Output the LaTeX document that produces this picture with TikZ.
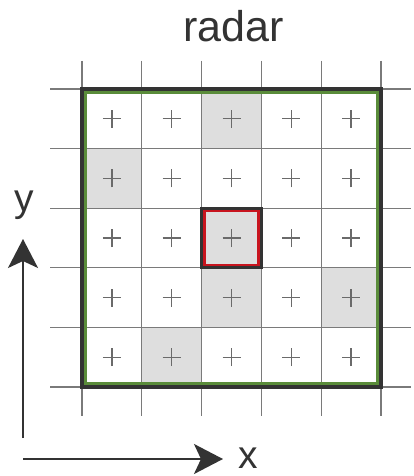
\documentclass[tikz,border=0pt]{standalone}
\usepackage{fontspec}
\setmainfont{Liberation Sans}
\usetikzlibrary{arrows.meta}
\definecolor{ink}{HTML}{333333}
\definecolor{gridc}{HTML}{7A7A7A}
\definecolor{plusc}{HTML}{6A6A6A}
\definecolor{cellgray}{HTML}{DEDEDE}
\definecolor{frgreen}{HTML}{5A8C3A}
\definecolor{frred}{HTML}{C8141E}
\tikzset{
  gridline/.style={draw=gridc, line width=1.3pt},
  pluss/.style={draw=plusc, line width=1.3pt},
  graycell/.style={fill=cellgray, draw=none},
  axisarrow/.style={draw=ink, line width=2pt, -{Stealth[length=29pt,width=30pt,inset=7pt]}},
  lbl/.style={text=ink, font=\fontsize{39}{44}\selectfont, inner sep=0pt, anchor=base},
}
\begin{document}
\begin{tikzpicture}[x=1pt,y=-1pt]
\useasboundingbox[fill=white] (0,0) rectangle (413,476);
\def\cw{59.8}
\def\chh{59.6}
% gray cells
\foreach \c/\r in {3/1, 1/2, 3/3, 3/4, 5/4, 2/5}{
  \path[graycell] ({82+(\c-1)*\cw},{89+(\r-1)*\chh}) rectangle ++(\cw,\chh);
}
% grid lines
\foreach \k in {0,...,5}{
  \draw[gridline] ({82+\k*\cw},61) -- ({82+\k*\cw},416);
  \draw[gridline] (50,{89+\k*\chh}) -- (411,{89+\k*\chh});
}
% plus signs as cell nodes
\foreach \c in {1,...,5}{
  \foreach \r in {1,...,5}{
    \coordinate (cell\c\r) at ({82+(\c-0.5)*\cw},{89+(\r-0.5)*\chh});
    \draw[pluss] ([xshift=-9pt]cell\c\r) -- ([xshift=9pt]cell\c\r);
    \draw[pluss] ([yshift=-9pt]cell\c\r) -- ([yshift=9pt]cell\c\r);
  }
}
% outer frame
\draw[ink, line width=4pt] (82,89) rectangle (381,387);
\draw[frgreen, line width=3pt] (85.5,92.5) rectangle (377.5,383.5);
% center frame
\node[draw=ink, line width=3pt, minimum width=59.8pt, minimum height=59.6pt, inner sep=0pt] (center) at (cell33) {};
\node[draw=frred, line width=2.5pt, minimum width=54.3pt, minimum height=54.1pt, inner sep=0pt] (centerred) at (cell33) {};
% title
\node[lbl, font=\fontsize{43}{48}\selectfont] (title) at (233.5,42) {radar};
% axes
\coordinate (origin) at (23,459);
\coordinate (ybase) at (23,438);
\coordinate (ytip) at (23,239);
\coordinate (xtip) at (223,459);
\draw[axisarrow] (ybase) -- (ytip);
\draw[axisarrow] (origin) -- (xtip);
\node[lbl] (ylab) at (24,211) {y};
\node[lbl] (xlab) at (248,468) {x};
\end{tikzpicture}
\end{document}
